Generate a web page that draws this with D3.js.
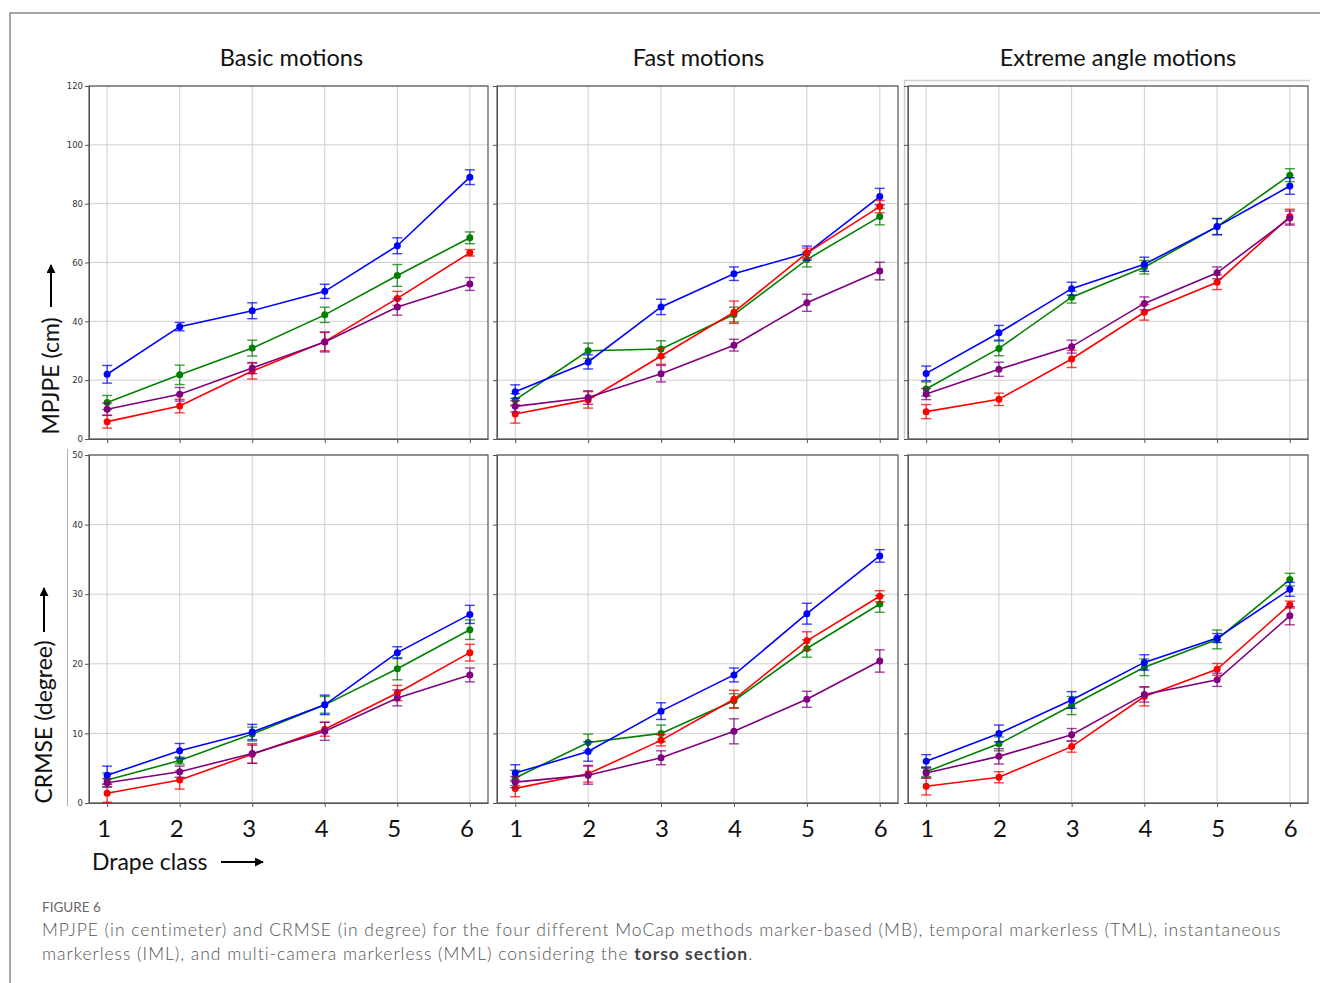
<!DOCTYPE html>
<html>
<head>
<meta charset="utf-8">
<script src="https://cdn.jsdelivr.net/npm/d3@7"></script>
<style>
  body { margin: 0; background: #fff; }
  svg { display: block; }
</style>
</head>
<body>
<div id="chart"></div>
<script>
// Data
const drapeClasses = [1, 2, 3, 4, 5, 6]
const motionTitles = ['Basic motions', 'Fast motions', 'Extreme angle motions']
const seriesColors = ['green', 'blue', 'red', 'purple'] // draw order, no legend in the figure
const mpjpeTicks = [0, 20, 40, 60, 80, 100, 120]
const crmseTicks = [0, 10, 20, 30, 40, 50]

// MPJPE (cm), rows = green, blue, red, purple
const mpjpeBasic = [
  [12.4, 21.8, 30.9, 42.2, 55.6, 68.4],
  [22.0, 38.2, 43.6, 50.2, 65.7, 89.0],
  [5.9, 11.2, 23.1, 33.1, 47.8, 63.3],
  [10.1, 15.2, 24.1, 33.0, 44.9, 52.7]
]
const mpjpeBasicErr = [
  [2.4, 3.3, 2.7, 2.6, 3.7, 2.0],
  [3.0, 1.4, 2.7, 2.4, 2.7, 2.5],
  [2.2, 2.3, 2.7, 3.1, 2.4, 1.1],
  [2.1, 2.3, 1.9, 3.4, 2.8, 2.2]
]
const mpjpeFast = [
  [13.3, 30.0, 30.6, 42.3, 61.0, 75.6],
  [16.1, 26.2, 44.9, 56.2, 63.2, 82.4],
  [8.5, 13.3, 28.2, 43.1, 63.2, 79.0],
  [11.1, 14.1, 22.2, 31.9, 46.3, 57.1]
]
const mpjpeFastErr = [
  [2.1, 2.6, 2.8, 2.5, 2.5, 2.8],
  [2.3, 2.4, 2.6, 2.3, 2.4, 2.8],
  [3.1, 2.8, 2.8, 3.8, 1.7, 2.1],
  [1.9, 2.3, 2.8, 2.0, 2.9, 3.0]
]
const mpjpeExtreme = [
  [17.0, 30.8, 48.2, 58.4, 72.2, 89.7],
  [22.3, 36.1, 51.1, 59.4, 72.2, 86.0],
  [9.3, 13.5, 27.2, 43.1, 53.3, 75.6],
  [15.3, 23.7, 31.4, 46.1, 56.5, 75.1]
]
const mpjpeExtremeErr = [
  [2.4, 2.5, 2.0, 2.3, 2.8, 2.2],
  [2.5, 2.5, 2.2, 2.4, 2.7, 2.8],
  [2.4, 2.1, 2.9, 2.7, 2.5, 2.5],
  [1.9, 2.4, 2.2, 2.2, 2.0, 2.4]
]

// CRMSE (degree)
const crmseBasic = [
  [3.3, 6.1, 9.9, 14.1, 19.3, 24.9],
  [4.0, 7.5, 10.2, 14.1, 21.6, 27.1],
  [1.4, 3.3, 7.0, 10.6, 15.8, 21.6],
  [2.9, 4.5, 7.1, 10.3, 15.1, 18.4]
]
const crmseBasicErr = [
  [1.0, 0.5, 1.0, 1.2, 1.6, 1.4],
  [1.3, 1.05, 1.1, 1.4, 0.85, 1.3],
  [1.3, 1.3, 1.3, 1.0, 1.1, 1.2],
  [0.6, 0.8, 1.4, 1.3, 1.15, 1.0]
]
const crmseFast = [
  [3.6, 8.7, 10.0, 14.7, 22.2, 28.6],
  [4.3, 7.4, 13.2, 18.4, 27.2, 35.5],
  [2.1, 4.2, 9.0, 14.9, 23.3, 29.7],
  [3.0, 4.0, 6.5, 10.3, 14.9, 20.4]
]
const crmseFastErr = [
  [1.1, 1.2, 1.2, 1.0, 1.25, 1.2],
  [1.2, 1.4, 1.2, 1.0, 1.5, 0.9],
  [1.2, 1.2, 0.8, 1.3, 1.3, 0.8],
  [0.8, 1.3, 1.0, 1.8, 1.15, 1.6]
]
const crmseExtreme = [
  [4.5, 8.5, 14.0, 19.5, 23.5, 32.1],
  [6.0, 10.0, 14.8, 20.2, 23.7, 30.7],
  [2.4, 3.7, 8.1, 15.3, 19.2, 28.5],
  [4.3, 6.7, 9.8, 15.6, 17.7, 26.9]
]
const crmseExtremeErr = [
  [0.7, 1.0, 1.3, 1.2, 1.35, 0.9],
  [0.95, 1.2, 1.2, 1.1, 0.65, 1.0],
  [1.25, 0.8, 0.8, 1.35, 0.85, 0.5],
  [0.75, 1.1, 0.9, 1.1, 0.95, 1.3]
]

const rows = [
  { label: 'MPJPE (cm)', ticks: mpjpeTicks, max: 120,
    values: [mpjpeBasic, mpjpeFast, mpjpeExtreme],
    errors: [mpjpeBasicErr, mpjpeFastErr, mpjpeExtremeErr] },
  { label: 'CRMSE (degree)', ticks: crmseTicks, max: 50,
    values: [crmseBasic, crmseFast, crmseExtreme],
    errors: [crmseBasicErr, crmseFastErr, crmseExtremeErr] }
]

// Dimensions
const width = 1320
const height = 983
const colX = [[89, 488], [497, 898], [908, 1308]]
const rowY = [[86, 439], [455, 803]]
const titleShift = [3, 1, 10]

const svg = d3.select('#chart')
  .append('svg')
  .attr('width', width)
  .attr('height', height)

// outer figure border
svg.append('path')
  .attr('d', `M10,${height} V13 H${width}`)
  .attr('fill', 'none')
  .attr('stroke', '#8a8a8a')
  .attr('stroke-width', 1.5)

// light frame of the pasted right-hand image + stray axis line
svg.append('path')
  .attr('d', 'M904.5,439 V80.5 H1310')
  .attr('fill', 'none')
  .attr('stroke', '#cfcfcf')
  .attr('stroke-width', 1.5)
svg.append('line')
  .attr('x1', 67.5).attr('x2', 67.5)
  .attr('y1', 449).attr('y2', 806)
  .attr('stroke', '#b0b0b0')

const line = d3.line()

rows.forEach((row, r) => {
  const yScale = d3.scaleLinear()
    .domain([0, row.max])
    .range(rowY[r].slice().reverse())

  colX.forEach((cx, c) => {
    const xScale = d3.scaleLinear()
      .domain([0.75, 6.25])
      .range(cx)

    const g = svg.append('g')

    // grid
    g.selectAll('.vgrid')
      .data(drapeClasses)
      .join('line')
      .attr('x1', d => xScale(d)).attr('x2', d => xScale(d))
      .attr('y1', rowY[r][0]).attr('y2', rowY[r][1])
      .attr('stroke', '#cfcfcf')
      .attr('stroke-width', 1)
    g.selectAll('.hgrid')
      .data(row.ticks)
      .join('line')
      .attr('x1', cx[0]).attr('x2', cx[1])
      .attr('y1', d => yScale(d)).attr('y2', d => yScale(d))
      .attr('stroke', '#cfcfcf')
      .attr('stroke-width', 1)

    // axes
    const yAxis = d3.axisLeft(yScale)
      .tickValues(row.ticks)
      .tickSizeInner(4)
      .tickSizeOuter(0)
      .tickPadding(2)
      .tickFormat(c === 0 ? d3.format('d') : () => '')
    const ya = g.append('g')
      .attr('transform', `translate(${cx[0]},0)`)
      .call(yAxis)
    ya.selectAll('text')
      .attr('font-family', 'DejaVu Sans')
      .attr('font-size', 8.5)
      .attr('fill', '#333')
    ya.selectAll('line, path').attr('stroke', '#555')

    const xAxis = d3.axisBottom(xScale)
      .tickValues(drapeClasses)
      .tickSizeInner(4)
      .tickSizeOuter(0)
      .tickFormat('')
    const xa = g.append('g')
      .attr('transform', `translate(0,${rowY[r][1]})`)
      .call(xAxis)
    xa.selectAll('line, path').attr('stroke', '#555')

    g.append('rect')
      .attr('x', cx[0]).attr('y', rowY[r][0])
      .attr('width', cx[1] - cx[0]).attr('height', rowY[r][1] - rowY[r][0])
      .attr('fill', 'none')
      .attr('stroke', '#555')
      .attr('stroke-width', 1.2)

    // series
    seriesColors.forEach((color, s) => {
      const vals = row.values[c][s]
      const errs = row.errors[c][s]
      const pts = drapeClasses.map((d, i) => ({ x: d, y: vals[i], e: errs[i] }))
      const sg = g.append('g')

      sg.append('path')
        .attr('d', line(pts.map(p => [xScale(p.x), yScale(p.y)])))
        .attr('fill', 'none')
        .attr('stroke', color)
        .attr('stroke-width', 1.6)

      const eb = sg.selectAll('.err')
        .data(pts)
        .join('g')
        .attr('stroke', color)
        .attr('stroke-opacity', 0.75)
        .attr('stroke-width', 1.4)
      eb.append('line')
        .attr('x1', p => xScale(p.x)).attr('x2', p => xScale(p.x))
        .attr('y1', p => yScale(p.y - p.e)).attr('y2', p => yScale(p.y + p.e))
      eb.append('line')
        .attr('x1', p => xScale(p.x) - 5).attr('x2', p => xScale(p.x) + 5)
        .attr('y1', p => yScale(p.y - p.e)).attr('y2', p => yScale(p.y - p.e))
      eb.append('line')
        .attr('x1', p => xScale(p.x) - 5).attr('x2', p => xScale(p.x) + 5)
        .attr('y1', p => yScale(p.y + p.e)).attr('y2', p => yScale(p.y + p.e))

      sg.selectAll('circle')
        .data(pts)
        .join('circle')
        .attr('cx', p => xScale(p.x))
        .attr('cy', p => yScale(p.y))
        .attr('r', 3.5)
        .attr('fill', color)
    })

    // titles and big class labels
    if (r === 0) {
      svg.append('text')
        .attr('x', (cx[0] + cx[1]) / 2 + titleShift[c])
        .attr('y', 66)
        .attr('text-anchor', 'middle')
        .attr('font-family', 'Lato, "Open Sans", sans-serif')
        .attr('font-size', 23.5)
        .attr('fill', '#111')
        .text(motionTitles[c])
    } else {
      svg.selectAll(null)
        .data(drapeClasses)
        .join('text')
        .attr('x', d => xScale(d) + (c === 0 ? -3 : 1))
        .attr('y', 837)
        .attr('text-anchor', 'middle')
        .attr('font-family', 'Lato, "Open Sans", sans-serif')
        .attr('font-size', 24)
        .attr('fill', '#111')
        .text(d => d)
    }
  })
})

// arrow heads
const defs = svg.append('defs')
defs.append('marker')
  .attr('id', 'head')
  .attr('viewBox', '0 0 10 10')
  .attr('refX', 9).attr('refY', 5)
  .attr('markerWidth', 4.5).attr('markerHeight', 4.5)
  .attr('orient', 'auto')
  .append('path')
  .attr('d', 'M0,0 L10,5 L0,10 z')
  .attr('fill', '#000')

// y axis labels
const yLabels = [
  { text: 'MPJPE (cm)', x: 50, cy: 376, a0: 307, a1: 265 },
  { text: 'CRMSE (degree)', x: 43, cy: 722, a0: 632, a1: 588 }
]
yLabels.forEach(l => {
  svg.append('text')
    .attr('transform', `translate(${l.x},${l.cy}) rotate(-90)`)
    .attr('text-anchor', 'middle')
    .attr('dominant-baseline', 'central')
    .attr('font-family', 'Lato, "Open Sans", sans-serif')
    .attr('font-size', 23)
    .attr('fill', '#111')
    .text(l.text)
  svg.append('line')
    .attr('x1', l.x + 1).attr('x2', l.x + 1)
    .attr('y1', l.a0).attr('y2', l.a1)
    .attr('stroke', '#000')
    .attr('stroke-width', 2)
    .attr('marker-end', 'url(#head)')
})

// x axis label
svg.append('text')
  .attr('x', 92).attr('y', 870)
  .attr('font-family', 'Lato, "Open Sans", sans-serif')
  .attr('font-size', 23)
  .attr('fill', '#111')
  .text('Drape class')
svg.append('line')
  .attr('x1', 221).attr('x2', 263)
  .attr('y1', 862).attr('y2', 862)
  .attr('stroke', '#000')
  .attr('stroke-width', 2)
  .attr('marker-end', 'url(#head)')

// caption
svg.append('text')
  .attr('x', 42).attr('y', 912)
  .attr('font-family', 'Lato, "Open Sans", sans-serif')
  .attr('font-size', 13.5)
  .attr('fill', '#6a6a6a')
  .text('FIGURE 6')

const caption = svg.append('g')
  .attr('font-family', 'Lato, "Open Sans", sans-serif')
  .attr('font-weight', 300)
  .attr('font-size', 17.5)
  .attr('letter-spacing', 0.97)
  .attr('fill', '#555')
caption.append('text')
  .attr('x', 42).attr('y', 936)
  .text('MPJPE (in centimeter) and CRMSE (in degree) for the four different MoCap methods marker-based (MB), temporal markerless (TML), instantaneous')
const l2 = caption.append('text')
  .attr('x', 42).attr('y', 960)
l2.append('tspan').text('markerless (IML), and multi-camera markerless (MML) considering the ')
l2.append('tspan').attr('font-weight', 700).attr('fill', '#444').text('torso section')
l2.append('tspan').text('.')
</script>
</body>
</html>
